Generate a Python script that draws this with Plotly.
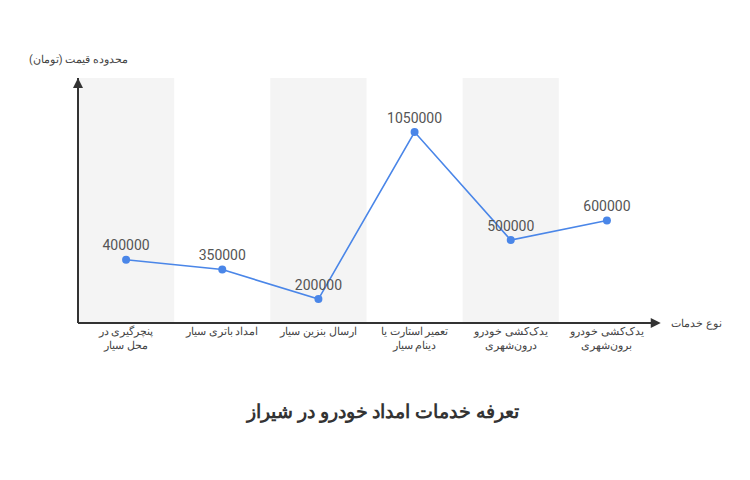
import plotly.graph_objects as go

services = ["پنچرگیری در<br>محل سیار", "امداد باتری سیار", "ارسال بنزین سیار",
            "تعمیر استارت یا<br>دینام سیار", "یدک‌کشی خودرو<br>درون‌شهری", "یدک‌کشی خودرو<br>برون‌شهری"]
prices = [400000, 350000, 200000, 1050000, 500000, 600000]

y_min, y_max = 78000, 1325000
idx = list(range(len(services)))

fig = go.Figure()
fig.add_trace(go.Scatter(
    x=idx, y=prices, mode="lines+markers+text",
    line=dict(color="#4a86e8", width=1.6),
    marker=dict(color="#4a86e8", size=8),
    text=[str(p) for p in prices], textposition="top center",
    textfont=dict(family="Roboto", size=14, color="#555"),
    cliponaxis=False, hoverinfo="skip",
))

# alternating background bands
for i in idx[::2]:
    fig.add_shape(type="rect", xref="x", yref="paper", x0=i - 0.5, x1=i + 0.5, y0=0, y1=1,
                  fillcolor="#f4f4f4", line_width=0, layer="below")

# axes with arrows
fig.add_shape(type="line", xref="paper", yref="paper", x0=0, x1=1.0, y0=0, y1=0,
              line=dict(color="#333", width=2))
fig.add_shape(type="line", xref="paper", yref="paper", x0=0, x1=0, y0=0, y1=1.0,
              line=dict(color="#333", width=2))
fig.add_annotation(x=1.01, y=0, xref="paper", yref="paper", ax=-20, ay=0,
                   showarrow=True, arrowhead=2, arrowsize=1, arrowwidth=2, arrowcolor="#333", text=" ")
fig.add_annotation(x=0, y=1.0, xref="paper", yref="paper", ax=0, ay=20,
                   showarrow=True, arrowhead=2, arrowsize=1, arrowwidth=2, arrowcolor="#333", text=" ")
fig.add_annotation(x=1.025, y=0, xref="paper", yref="paper", xanchor="left", yanchor="middle",
                   text="نوع خدمات", showarrow=False, font=dict(family="Roboto", size=11, color="#444"))
fig.add_annotation(x=0.09, y=1.04, xref="paper", yref="paper", xanchor="right", yanchor="bottom",
                   text="محدوده قیمت (تومان)", showarrow=False, font=dict(family="Roboto", size=11, color="#444"))

fig.update_layout(
    width=750, height=480,
    margin=dict(l=70, r=103, t=70, b=165),
    paper_bgcolor="white", plot_bgcolor="white",
    showlegend=False,
    title=dict(text="<b>تعرفه خدمات امداد خودرو در شیراز</b>", x=0.5, xanchor="center",
               y=0.16, yanchor="middle", font=dict(family="Noto Sans", size=19, color="#333")),
    xaxis=dict(range=[-0.5, 5.5], tickvals=idx, ticktext=services, showgrid=False, zeroline=False,
               showline=False, ticks="", tickfont=dict(family="Roboto", size=11, color="#444")),
    yaxis=dict(range=[y_min, y_max], showticklabels=False, showgrid=False, zeroline=False, showline=False),
)

fig.write_html("out.html")
